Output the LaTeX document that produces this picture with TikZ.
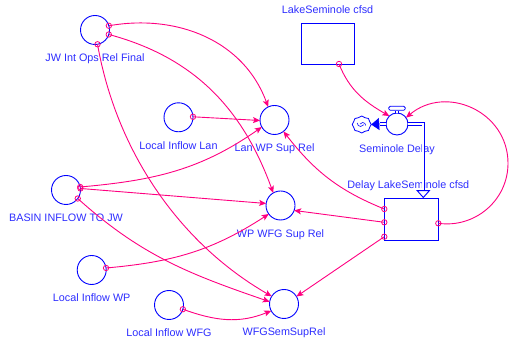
\documentclass[tikz,border=0pt]{standalone}
\usepackage{fontspec}
\setmainfont{Liberation Sans}
\usetikzlibrary{arrows.meta, positioning, shapes.symbols}
\definecolor{vblue}{RGB}{0,0,255}
\definecolor{vtext}{RGB}{45,45,255}
\definecolor{linkpink}{RGB}{255,0,128}

\begin{document}
\begin{tikzpicture}[
    x=1pt, y=1pt, >=Stealth,
    aux/.style={circle, draw=vblue, line width=0.9pt, minimum size=29pt,
                inner sep=0pt, outer sep=0pt},
    stockbox/.style={draw=vblue, line width=0.9pt, inner sep=0pt, outer sep=0pt},
    varname/.style={text=vtext, font=\fontsize{10.8}{13}\selectfont,
                    inner sep=0pt, text height=7.7pt, text depth=0pt},
    linkarrow/.style={draw=linkpink, line width=0.9pt,
                      -{Stealth[length=7pt, width=6pt, inset=1.5pt]}},
    tailmark/.style={draw=linkpink, line width=0.8pt},
    flowpipe/.style={draw=vblue, line width=0.9pt, double=white, double distance=1.8pt}
  ]
  \useasboundingbox (0,0) rectangle (510,344);

  \node[aux] (jw) at (95,314) {};
  \node[aux] (lanin) at (178.5,226.7) {};
  \node[aux] (lanwp) at (274.5,224) {};
  \node[aux] (basin) at (66,154) {};
  \node[aux] (wpwfg) at (280.5,138.5) {};
  \node[aux] (wpin) at (91.7,74) {};
  \node[aux] (wfgin) at (169,39) {};
  \node[aux] (wfgsem) at (284,40) {};
  \node[stockbox, minimum width=53.3pt, minimum height=41pt] (lake) at (327.6,300.5) {};
  \node[stockbox, minimum width=54pt, minimum height=42pt] (delay) at (411.3,124.8) {};
  \node[circle, draw=vblue, line width=0.9pt, minimum size=22pt, inner sep=0pt,
        outer sep=0pt] (valve) at (397,220) {};
  \node[cloud, cloud puffs=8, cloud puff arc=110, draw=vblue, line width=0.8pt,
        minimum width=19pt, minimum height=17pt, inner sep=0pt, outer sep=0pt]
    (cloud) at (361.7,219.5) {};
  \draw[vblue, line width=0.6pt] (cloud.center) ++(-4.5,1.5) arc[start angle=180, end angle=330, radius=3.5];
  \draw[vblue, line width=0.6pt] (cloud.center) ++(4,-1) arc[start angle=0, end angle=150, radius=3];
  \node[draw=vblue, line width=0.8pt, rounded corners=1.5pt, minimum width=16.6pt,
        minimum height=4pt, inner sep=0pt, above=2.3pt of valve] (handle) {};

  \node[varname, below=9.5pt of jw] {JW Int Ops Rel Final};
  \node[varname, below=9.5pt of lanin] {Local Inflow Lan};
  \node[varname, below=9.5pt of lanwp] {Lan WP Sup Rel};
  \node[varname, below=9.5pt of basin] {BASIN INFLOW TO JW};
  \node[varname, below=9.2pt of wpwfg] {WP WFG Sup Rel};
  \node[varname, below=9.5pt of wpin] {Local Inflow WP};
  \node[varname, below=9.5pt of wfgin] {Local Inflow WFG};
  \node[varname, below=9.5pt of wfgsem] {WFGSemSupRel};
  \node[varname, below=9.2pt of valve] {Seminole Delay};
  \node[varname, above=9.2pt of lake] {LakeSeminole cfsd};
  \node[varname, above=9.2pt of delay, xshift=-3pt] {Delay LakeSeminole cfsd};

  \coordinate[right=11.4pt of lake.south] (lakeB);
  \coordinate[above=10.2pt of delay.west] (dlyT);
  \coordinate[below=3.1pt of delay.west] (dlyM);
  \coordinate[below=17.5pt of delay.west] (dlyB);
  \coordinate[below=4.1pt of delay.east] (dlyR);
  \coordinate (loopR) at (508,180.7);
  \coordinate[above right=8pt and 12pt of delay.north] (inflow);
  \coordinate[left=6pt of valve.west] (outflow);

  \draw[flowpipe] (valve.east) -| (inflow);
  \draw[draw=vblue, line width=0.9pt, -{Triangle[open, length=8pt, width=14pt]}]
    (inflow) -- (inflow |- delay.north);
  \draw[flowpipe] (valve.west) -- (outflow);
  \draw[draw=vblue, line width=0.6pt, -{Triangle[length=8pt, width=12pt]}]
    (outflow) -- (cloud.east);
  \draw[flowpipe] (valve.north) -- (handle.south);

  \draw[linkarrow] (jw.17) to[out=10, in=110] (lanwp.116);
  \draw[linkarrow] (jw.-18) to[out=-15, in=110] (wpwfg.120);
  \draw[linkarrow] (jw.-80) to[out=-80, in=150, looseness=0.9] (wfgsem.148);
  \draw[linkarrow] (lanin.2) -- (lanwp.182);
  \draw[linkarrow] (basin.12) to[out=5, in=-145] (lanwp.-151);
  \draw[linkarrow] (basin.6) -- (wpwfg.172);
  \draw[linkarrow] (basin.-36) to[out=-42, in=161] (wfgsem.171);
  \draw[linkarrow] (wpin.8) to[out=5, in=-147] (wpwfg.-144);
  \draw[linkarrow] (wfgin.-17) to[out=-20, in=-158] (wfgsem.-152);
  \draw[linkarrow] (dlyT) to[out=158, in=-52] (lanwp.-52);
  \draw[linkarrow] (dlyM) -- (wpwfg.-20);
  \draw[linkarrow] (dlyB) -- (wfgsem.31);
  \draw[linkarrow] (dlyR) to[out=-8, in=-90, distance=37] (loopR)
    to[out=90, in=40, distance=52] (valve.35);
  \draw[linkarrow] (lakeB) to[out=-68, in=150] (valve.134);

  \foreach \t in {jw.17, jw.-18, jw.-80, lanin.2, basin.12, basin.6, basin.-36,
                  wpin.8, wfgin.-17, dlyT, dlyM, dlyB, dlyR, lakeB}
    \draw[tailmark] (\t) circle (2.7);
\end{tikzpicture}
\end{document}
